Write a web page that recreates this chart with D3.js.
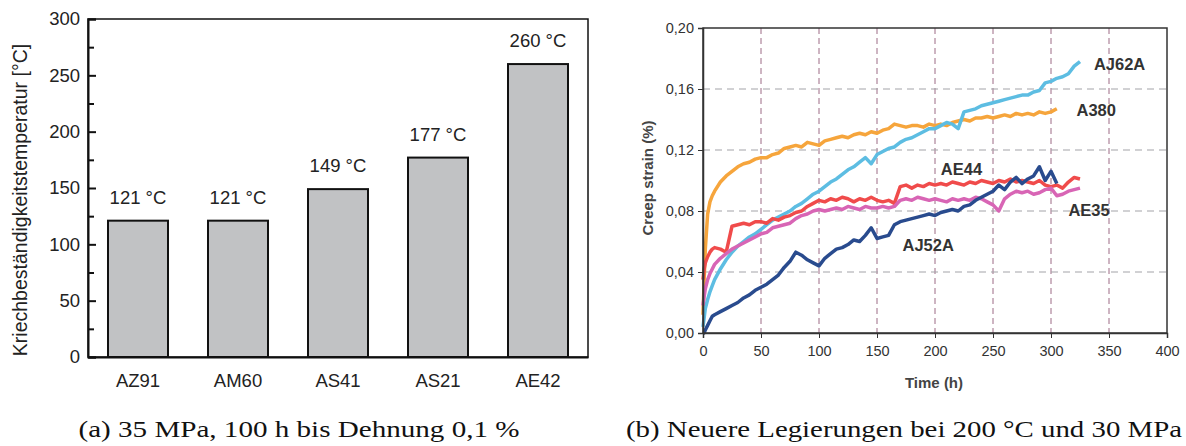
<!DOCTYPE html>
<html>
<head>
<meta charset="utf-8">
<script src="https://cdn.jsdelivr.net/npm/d3@7"></script>
<style>
  body { margin: 0; background: #fff; }
  svg { display: block; }
  .tickA text { font-family: 'Liberation Sans', Arial, sans-serif; font-size: 18.5px; fill: #222; }
  .tickB text { font-family: 'Liberation Sans', Arial, sans-serif; font-size: 14.5px; fill: #333; }
</style>
</head>
<body>
<div id="chart"></div>
<script>
// ---- data, panel (a) ----
let alloys = ['AZ91', 'AM60', 'AS41', 'AS21', 'AE42'];
let creepTemps = [121, 121, 149, 177, 260];
let tempTicks = [0, 50, 100, 150, 200, 250, 300];

// ---- data, panel (b) ----
let hours = [0, 1, 2, 4, 6, 8, 10, 15, 20, 25, 30, 35, 40, 45, 50, 55, 60, 65, 70, 75, 80, 85, 90, 95, 100,
  105, 110, 115, 120, 125, 130, 135, 140, 145, 150, 155, 160, 165, 170, 175, 180, 185, 190, 195, 200,
  205, 210, 215, 220, 225, 230, 235, 240, 245, 250, 255, 260, 265, 270, 275, 280, 285, 290, 295, 300,
  305, 310, 315, 320, 325];
let a380 = [0.012, 0.035, 0.055, 0.078, 0.086, 0.090, 0.093, 0.099, 0.103, 0.106, 0.109, 0.111, 0.112, 0.114,
  0.115, 0.115, 0.117, 0.118, 0.121, 0.122, 0.123, 0.122, 0.125, 0.124, 0.123, 0.126, 0.127, 0.128, 0.129,
  0.128, 0.130, 0.131, 0.130, 0.132, 0.131, 0.133, 0.134, 0.137, 0.136, 0.135, 0.136, 0.136, 0.135, 0.137,
  0.136, 0.137, 0.136, 0.138, 0.139, 0.140, 0.139, 0.141, 0.141, 0.142, 0.141, 0.142, 0.143, 0.142, 0.144,
  0.143, 0.144, 0.143, 0.145, 0.144, 0.145, 0.147];
let aj62a = [0.004, 0.010, 0.016, 0.022, 0.027, 0.031, 0.035, 0.042, 0.048, 0.053, 0.057, 0.060, 0.063, 0.065,
  0.068, 0.071, 0.074, 0.076, 0.078, 0.080, 0.083, 0.085, 0.088, 0.091, 0.093, 0.096, 0.099, 0.101, 0.104,
  0.107, 0.109, 0.112, 0.115, 0.111, 0.117, 0.119, 0.121, 0.122, 0.125, 0.127, 0.128, 0.130, 0.132, 0.134,
  0.134, 0.136, 0.138, 0.137, 0.134, 0.145, 0.146, 0.147, 0.149, 0.150, 0.151, 0.152, 0.153, 0.154, 0.155,
  0.156, 0.156, 0.158, 0.159, 0.164, 0.165, 0.167, 0.168, 0.170, 0.175, 0.178];
let ae44 = [0.035, 0.042, 0.046, 0.050, 0.053, 0.055, 0.056, 0.055, 0.053, 0.070, 0.071, 0.072, 0.071, 0.073,
  0.073, 0.072, 0.075, 0.074, 0.076, 0.077, 0.079, 0.080, 0.083, 0.085, 0.087, 0.086, 0.088, 0.087, 0.089,
  0.088, 0.086, 0.088, 0.087, 0.089, 0.087, 0.086, 0.087, 0.085, 0.096, 0.097, 0.095, 0.097, 0.096, 0.098,
  0.097, 0.098, 0.097, 0.099, 0.098, 0.097, 0.099, 0.098, 0.100, 0.099, 0.098, 0.100, 0.099, 0.101, 0.099,
  0.100, 0.099, 0.098, 0.100, 0.097, 0.096, 0.097, 0.095, 0.099, 0.102, 0.101];
let ae35 = [0.018, 0.024, 0.029, 0.035, 0.039, 0.042, 0.045, 0.049, 0.052, 0.055, 0.057, 0.059, 0.061, 0.063,
  0.065, 0.066, 0.069, 0.070, 0.071, 0.072, 0.075, 0.077, 0.078, 0.080, 0.081, 0.080, 0.081, 0.082, 0.081,
  0.083, 0.082, 0.081, 0.083, 0.082, 0.082, 0.083, 0.082, 0.083, 0.087, 0.088, 0.087, 0.089, 0.088, 0.087,
  0.088, 0.087, 0.086, 0.088, 0.087, 0.088, 0.087, 0.089, 0.088, 0.086, 0.084, 0.080, 0.088, 0.091, 0.093,
  0.092, 0.093, 0.091, 0.092, 0.094, 0.095, 0.090, 0.091, 0.093, 0.094, 0.095];
let aj52a = [0.000, 0.000, 0.002, 0.005, 0.008, 0.011, 0.012, 0.014, 0.016, 0.018, 0.020, 0.023, 0.025, 0.028,
  0.030, 0.032, 0.035, 0.038, 0.043, 0.047, 0.053, 0.051, 0.048, 0.046, 0.044, 0.049, 0.052, 0.055, 0.056,
  0.058, 0.061, 0.060, 0.064, 0.069, 0.062, 0.063, 0.064, 0.071, 0.073, 0.074, 0.075, 0.076, 0.077, 0.078,
  0.077, 0.079, 0.080, 0.081, 0.080, 0.083, 0.084, 0.087, 0.089, 0.091, 0.093, 0.097, 0.094, 0.099, 0.102,
  0.098, 0.101, 0.103, 0.109, 0.100, 0.106, 0.098];
let seriesNames = ['A380', 'AJ62A', 'AE44', 'AE35', 'AJ52A'];
let seriesValues = [a380, aj62a, ae44, ae35, aj52a];
let seriesColors = ['#f6a53c', '#5dbde2', '#f04b4b', '#d865b5', '#294b8e'];
let timeTicks = [0, 50, 100, 150, 200, 250, 300, 350, 400];
let strainTicks = [0, 0.04, 0.08, 0.12, 0.16, 0.20];

let svgWidth = 1186;
let svgHeight = 446;

let svg = d3.select('#chart')
  .append('svg')
  .attr('width', svgWidth)
  .attr('height', svgHeight);

// ================= panel (a): bars =================
let barX = d3.scaleBand()
  .domain(alloys)
  .range([88, 588])
  .paddingInner(0.4)
  .paddingOuter(0.2);

let barY = d3.scaleLinear()
  .domain([0, 300])
  .range([357, 19]);

let chartA = svg.append('g');

//bars
chartA.selectAll('.bar')
  .data(alloys)
  .enter()
  .append('rect')
  .attr('class', 'bar')
  .attr('x', d => barX(d))
  .attr('y', (d, i) => barY(creepTemps[i]))
  .attr('width', barX.bandwidth())
  .attr('height', (d, i) => barY(0) - barY(creepTemps[i]))
  .attr('fill', '#c1c2c4')
  .attr('stroke', '#111')
  .attr('stroke-width', 2);

//value labels
chartA.selectAll('.barLabel')
  .data(alloys)
  .enter()
  .append('text')
  .attr('x', d => barX(d) + barX.bandwidth() / 2)
  .attr('y', (d, i) => barY(creepTemps[i]) - 17)
  .attr('text-anchor', 'middle')
  .style('font-family', "'Liberation Sans', Arial, sans-serif")
  .style('font-size', '18.5px')
  .style('fill', '#222')
  .text((d, i) => creepTemps[i] + ' °C');

//frame
chartA.append('rect')
  .attr('x', 88)
  .attr('y', 19)
  .attr('width', 500)
  .attr('height', 338)
  .attr('fill', 'none')
  .attr('stroke', '#111')
  .attr('stroke-width', 1.5);

//axes
let yAxisA = chartA.append('g')
  .attr('class', 'tickA')
  .attr('transform', 'translate(88,0)')
  .call(d3.axisLeft(barY).tickValues(tempTicks).tickSize(-8).tickPadding(8));
yAxisA.select('.domain').attr('stroke', '#111').attr('stroke-width', 2);
yAxisA.selectAll('line').attr('stroke', '#111').attr('stroke-width', 2);

let yMinorA = chartA.append('g')
  .attr('transform', 'translate(88,0)')
  .call(d3.axisLeft(barY).tickValues([25, 75, 125, 175, 225, 275]).tickSize(-6).tickFormat(''));
yMinorA.select('.domain').remove();
yMinorA.selectAll('line').attr('stroke', '#111').attr('stroke-width', 2);

let xAxisA = chartA.append('g')
  .attr('class', 'tickA')
  .attr('transform', 'translate(0,357)')
  .call(d3.axisBottom(barX).tickSize(0).tickPadding(17));
xAxisA.select('.domain').attr('stroke', '#111').attr('stroke-width', 2);

chartA.append('text')
  .attr('transform', 'translate(27,200) rotate(-90)')
  .attr('text-anchor', 'middle')
  .style('font-family', "'Liberation Sans', Arial, sans-serif")
  .style('font-size', '19.5px')
  .style('fill', '#222')
  .text('Kriechbeständigkeitstemperatur [°C]');

// ================= panel (b): creep curves =================
let timeScale = d3.scaleLinear()
  .domain([0, 400])
  .range([703, 1167]);

let strainScale = d3.scaleLinear()
  .domain([0, 0.20])
  .range([333, 28]);

let chartB = svg.append('g');

//dashed grid
chartB.selectAll('.vgrid')
  .data(timeTicks.slice(1, -1))
  .enter()
  .append('line')
  .attr('x1', d => timeScale(d))
  .attr('x2', d => timeScale(d))
  .attr('y1', strainScale(0.20))
  .attr('y2', strainScale(0))
  .attr('stroke', '#9c6a85')
  .attr('stroke-width', 1)
  .attr('stroke-dasharray', '6,4');

chartB.selectAll('.hgrid')
  .data(strainTicks.slice(1, -1))
  .enter()
  .append('line')
  .attr('x1', timeScale(0))
  .attr('x2', timeScale(400))
  .attr('y1', d => strainScale(d))
  .attr('y2', d => strainScale(d))
  .attr('stroke', '#a3a3a8')
  .attr('stroke-width', 1)
  .attr('stroke-dasharray', '7,5');

//curves
let line = d3.line()
  .x((d, i) => timeScale(hours[i]))
  .y(d => strainScale(d));

chartB.selectAll('.curve')
  .data(seriesValues)
  .enter()
  .append('path')
  .attr('d', d => line(d))
  .attr('fill', 'none')
  .attr('stroke', (d, i) => seriesColors[i])
  .attr('stroke-width', 3.5)
  .attr('stroke-linejoin', 'round');

//frame
chartB.append('rect')
  .attr('x', timeScale(0))
  .attr('y', strainScale(0.20))
  .attr('width', timeScale(400) - timeScale(0))
  .attr('height', strainScale(0) - strainScale(0.20))
  .attr('fill', 'none')
  .attr('stroke', '#333')
  .attr('stroke-width', 1.5);

let yAxisB = chartB.append('g')
  .attr('class', 'tickB')
  .attr('transform', `translate(${timeScale(0)},0)`)
  .call(d3.axisLeft(strainScale).tickValues(strainTicks).tickSize(5).tickPadding(4)
    .tickFormat(d => d3.format('.2f')(d).replace('.', ',')));
yAxisB.select('.domain').attr('stroke', '#333').attr('stroke-width', 1.5);
yAxisB.selectAll('line').attr('stroke', '#333');

let xAxisB = chartB.append('g')
  .attr('class', 'tickB')
  .attr('transform', `translate(0,${strainScale(0)})`)
  .call(d3.axisBottom(timeScale).tickValues(timeTicks).tickSize(5).tickPadding(8));
xAxisB.select('.domain').attr('stroke', '#333').attr('stroke-width', 1.5);
xAxisB.selectAll('line').attr('stroke', '#333');

chartB.append('text')
  .attr('transform', 'translate(653,178) rotate(-90)')
  .attr('text-anchor', 'middle')
  .style('font-family', "'Liberation Sans', Arial, sans-serif")
  .style('font-size', '15px')
  .style('font-weight', 'bold')
  .style('fill', '#444')
  .text('Creep strain (%)');

chartB.append('text')
  .attr('x', 934)
  .attr('y', 388)
  .attr('text-anchor', 'middle')
  .style('font-family', "'Liberation Sans', Arial, sans-serif")
  .style('font-size', '15px')
  .style('font-weight', 'bold')
  .style('fill', '#444')
  .text('Time (h)');

//curve labels, anchored in data units
let labelSpots = [
  {name: 'AJ62A', t: 337, v: 0.1725},
  {name: 'A380', t: 322, v: 0.1425},
  {name: 'AE44', t: 205, v: 0.1035},
  {name: 'AE35', t: 315, v: 0.0765},
  {name: 'AJ52A', t: 172, v: 0.0535}
];
chartB.selectAll('.curveLabel')
  .data(labelSpots)
  .enter()
  .append('text')
  .attr('x', d => timeScale(d.t))
  .attr('y', d => strainScale(d.v))
  .style('font-family', "'Liberation Sans', Arial, sans-serif")
  .style('font-size', '16.5px')
  .style('font-weight', 'bold')
  .style('fill', '#333')
  .text(d => d.name);

// ================= captions =================
svg.append('text')
  .attr('x', 299)
  .attr('y', 437)
  .attr('text-anchor', 'middle')
  .attr('textLength', 441)
  .attr('lengthAdjust', 'spacingAndGlyphs')
  .style('font-family', "'Liberation Serif', 'Times New Roman', serif")
  .style('font-size', '24px')
  .style('fill', '#111')
  .text('(a) 35 MPa, 100 h bis Dehnung 0,1 %');

svg.append('text')
  .attr('x', 904)
  .attr('y', 437)
  .attr('text-anchor', 'middle')
  .attr('textLength', 556)
  .attr('lengthAdjust', 'spacingAndGlyphs')
  .style('font-family', "'Liberation Serif', 'Times New Roman', serif")
  .style('font-size', '24px')
  .style('fill', '#111')
  .text('(b) Neuere Legierungen bei 200 °C und 30 MPa');
</script>
</body>
</html>
